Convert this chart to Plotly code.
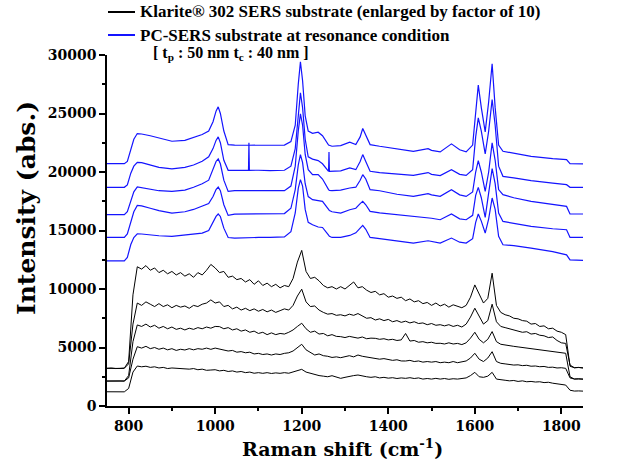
import plotly.graph_objects as go

# ---------------- data ----------------
# PC-SERS (blue) spectra, shared Raman-shift grid
x_pc = [750, 790, 797, 805, 812, 820, 830, 850, 870, 900, 930, 950, 970, 985, 995, 1002, 1007, 1012,
        1020, 1030, 1045, 1077, 1078, 1079, 1100, 1127, 1160, 1175, 1185, 1192, 1197, 1202, 1208,
        1215, 1225, 1238, 1248, 1262, 1263, 1264, 1270, 1290, 1311, 1325, 1335, 1341, 1348, 1358,
        1380, 1420, 1458, 1492, 1500, 1520, 1546, 1565, 1580, 1595, 1602, 1608, 1615, 1624, 1632,
        1640, 1647, 1655, 1665, 1690, 1730, 1780, 1812, 1820, 1850]

pc_1 = [20716, 20716, 20900, 21900, 22800, 23286, 23250, 23100, 22900, 22627, 22700, 22950, 23200,
        23500, 24300, 25200, 25572, 25000, 23500, 22343, 22300, 22286, 22286, 22286, 22300, 22286,
        22300, 22600, 24000, 27500, 29426, 27800, 24800, 23500, 23300, 23400, 23100, 22300, 22280,
        22280, 22200, 22250, 22543, 22350, 23000, 23714, 23100, 22343, 22200, 22000, 21770, 22000,
        21850, 21718, 22403, 21900, 21718, 22300, 25000, 27422, 25500, 23431, 26000, 29255, 25500,
        22300, 21770, 21600, 21341, 21150, 21059, 20716, 20700]
pc_2 = [18690, 18690, 18900, 19900, 20500, 20831, 20800, 20600, 20400, 20260, 20400, 20600, 20917,
        21300, 22000, 22700, 23002, 22500, 21000, 20146, 20150, 20146, 22489, 20146, 20150, 20117,
        20150, 20500, 22000, 25000, 26771, 25500, 22800, 21300, 21100, 20973, 20700, 20060, 21718,
        20057, 20057, 20100, 20348, 20200, 20900, 21487, 20900, 20060, 19950, 19850, 19714, 19950,
        19800, 19700, 20203, 19800, 19714, 20200, 23000, 24630, 23500, 21547, 23500, 26197, 24000,
        20500, 19629, 19500, 19260, 19050, 18918, 18690, 18690]
pc_3 = [16349, 16349, 16600, 17600, 18300, 18716, 18650, 18500, 18400, 18345, 18450, 18700, 19000,
        19300, 20200, 20900, 21116, 20700, 19300, 18345, 18400, 18400, 18400, 18400, 18380, 18345,
        18400, 18800, 20500, 23500, 24972, 24000, 21500, 20200, 19774, 19774, 19400, 18500, 18450,
        18420, 18404, 18450, 18635, 18700, 19300, 19774, 19400, 18490, 18400, 18100, 17916, 18150,
        18050, 17916, 18490, 18050, 17916, 18300, 20000, 20973, 20000, 18345, 20000, 22489, 21000,
        18500, 18060, 17800, 17488, 17200, 17060, 16409, 16409]
pc_4 = [14405, 14405, 14700, 15800, 16600, 17145, 17100, 16900, 16700, 16494, 16600, 16800, 17060,
        17300, 17900, 18500, 18716, 18400, 17200, 16289, 16400, 16403, 16403, 16403, 16420, 16403,
        16450, 16900, 18500, 20600, 21487, 20800, 19000, 17900, 17633, 17550, 17488, 16800, 16750,
        16700, 16600, 16494, 16777, 16900, 17300, 17488, 17200, 16631, 16500, 16350, 16203, 16118,
        16050, 15920, 16409, 16000, 15920, 16300, 18000, 18687, 17800, 16117, 18000, 20288, 19000,
        16500, 15775, 15600, 15347, 15150, 15064, 14405, 14405]
pc_5 = [12409, 12409, 12700, 13800, 14400, 14722, 14700, 14600, 14550, 14490, 14600, 14700, 14775,
        15000, 15700, 16200, 16409, 16200, 15200, 14400, 14353, 14405, 14405, 14405, 14405, 14405,
        14450, 14900, 16500, 18600, 19346, 18800, 16800, 15700, 15492, 15300, 15261, 14600, 14550,
        14500, 14405, 14405, 14576, 14800, 15200, 15432, 15100, 14405, 14300, 14100, 13925, 14122,
        14050, 13925, 14353, 14000, 13925, 14300, 15700, 16409, 15800, 14781, 16000, 17779, 16800,
        14500, 13780, 13700, 13497, 13200, 12923, 12495, 12440]

# Klarite (black) spectra, enlarged by factor of 10
x_kl = [750, 760, 770, 780, 790,
        800, 810, 820, 830, 840, 850, 860, 870, 880, 890,
        900, 910, 920, 930, 940, 950, 960, 970, 980, 990,
        1000, 1010, 1020, 1030, 1040, 1050, 1060, 1070, 1080, 1090,
        1100, 1110, 1120, 1130, 1140, 1150, 1160, 1170, 1180, 1190,
        1200, 1210, 1220, 1230, 1240, 1250, 1260, 1270, 1280, 1290,
        1300, 1310, 1320, 1330, 1340, 1350, 1360, 1370, 1380, 1390,
        1400, 1410, 1420, 1430, 1440, 1450, 1460, 1470, 1480, 1490,
        1500, 1510, 1520, 1530, 1540, 1550, 1560, 1570, 1580, 1590,
        1600, 1610, 1620, 1630, 1640, 1650, 1660, 1670, 1680, 1690,
        1700, 1710, 1720, 1730, 1740, 1750, 1760, 1770, 1780, 1790,
        1800, 1810, 1820, 1830, 1840, 1850]

kl_1 = [3220, 3250, 3200, 3240, 3230,
        3800, 9500, 11900, 11700, 12000, 11600, 11800, 11400, 11600, 11300,
        11500, 11200, 11400, 11100, 11300, 11000, 11400, 11200, 11600, 12100,
        11800, 11400, 11500, 11000, 11100, 10800, 10900, 10600, 10800, 10400,
        10700, 10300, 10500, 10200, 10400, 10100, 10300, 10200, 10900, 12300,
        13300, 11500, 10900, 11000, 10700, 10300, 10100, 10200, 10000, 10200,
        10000, 10300, 10600, 10100, 10200, 9900, 9700, 9800, 9500, 9600,
        9300, 9400, 9200, 9300, 9000, 9150, 8900, 9000, 8750, 8850,
        8600, 8800, 8550, 8700, 8450, 8650, 8500, 8400, 8600, 9300,
        10350, 9500, 8800, 9200, 11350, 8600, 8000, 7800, 7700, 7500,
        7450, 7300, 7250, 7000, 7050, 6800, 6850, 6600, 6650, 6400,
        6300, 6100, 3400, 3270, 3300, 3250]
kl_2 = [3220, 3200, 3240, 3210, 3230,
        3600, 7000, 8800, 8600, 8900, 8700, 8500, 8750, 8500, 8650,
        8400, 8600, 8450, 8550, 8350, 8600, 8500, 8700, 8800, 9069,
        8800, 8900, 8500, 8600, 8300, 8450, 8200, 8350, 8150, 8300,
        8100, 8250, 8050, 8200, 8000, 8150, 8300, 8200, 8600, 9400,
        9985, 8900, 8500, 8550, 8200, 8000, 7850, 7900, 7750, 7800,
        7700, 7850, 7750, 7900, 7700, 7500, 7550, 7350, 7450, 7300,
        7400, 7200, 7300, 7150, 7250, 7100, 7200, 7050, 7100, 6950,
        7050, 6900, 6950, 6850, 6950, 6800, 6900, 6750, 7000, 7600,
        8358, 7700, 7000, 7300, 8701, 7200, 6800, 6700, 6600, 6500,
        6450, 6300, 6350, 6150, 6200, 6050, 6000, 5850, 5900, 5600,
        5400, 5350, 3500, 3271, 3290, 3260]
kl_3 = [2132, 2150, 2120, 2140, 2130,
        2600, 5500, 6928, 6800, 7000, 6750, 6900, 6650, 6800, 6600,
        6750, 6550, 6650, 6500, 6650, 6550, 6700, 6600, 6750, 6650,
        6800, 6783, 6600, 6700, 6500, 6600, 6400, 6500, 6300, 6400,
        6200, 6300, 6100, 6250, 6100, 6200, 6150, 6300, 6500, 6800,
        7074, 6600, 6300, 6400, 6150, 6200, 6000, 6100, 5950, 5927,
        5850, 5950, 5850, 5800, 5900, 5750, 5800, 5784, 5700, 5750,
        5650, 5700, 5600, 5650, 6200, 5550, 5600, 5450, 5500, 5400,
        5450, 5350, 5361, 5300, 5400, 5300, 5350, 5250, 5400, 5800,
        6303, 5700, 5400, 5700, 6360, 5500, 5275, 5200, 5150, 5100,
        5050, 5000, 4950, 4900, 4850, 4787, 4750, 4700, 4650, 4600,
        4550, 4505, 2500, 2304, 2320, 2290]
kl_4 = [2132, 2120, 2145, 2125, 2135,
        2400, 4000, 5070, 4950, 5100, 4900, 5000, 4850, 4950, 4800,
        4900, 4750, 4850, 4787, 4900, 4800, 4900, 4850, 4950, 4844,
        4950, 4850, 4800, 4700, 4750, 4600, 4650, 4550, 4600, 4450,
        4500, 4400, 4450, 4359, 4450, 4400, 4500, 4550, 4700, 5000,
        5275, 4800, 4600, 4359, 4450, 4300, 4250, 4150, 4200, 4128,
        4214, 4300, 4200, 4359, 4250, 4200, 4100, 4050, 4000, 4050,
        3950, 3900, 3950, 3850, 3845, 3900, 3800, 3850, 3750, 3800,
        3750, 3800, 3700, 3750, 3700, 3800, 3700, 3750, 3850, 4100,
        4505, 4000, 3800, 4100, 4642, 3800, 3648, 3600, 3550, 3500,
        3520, 3450, 3480, 3400, 3420, 3357, 3380, 3300, 3320, 3250,
        3270, 3220, 2400, 2304, 2320, 2300]
kl_5 = [1216, 1230, 1200, 1225, 1210,
        1500, 2900, 3417, 3350, 3400, 3300, 3350, 3250, 3300, 3200,
        3250, 3220, 3200, 3220, 3150, 3200, 3100, 3150, 3050, 3074,
        3100, 3000, 3050, 2950, 3000, 2900, 2950, 2850, 2900, 2800,
        2850, 2792, 2850, 2780, 2830, 2792, 2850, 2800, 2900, 3000,
        3134, 2900, 2792, 2700, 2600, 2550, 2500, 2589, 2450, 2363,
        2450, 2550, 2600, 2650, 2550, 2500, 2450, 2500, 2400, 2450,
        2380, 2420, 2350, 2400, 2363, 2420, 2350, 2400, 2300, 2350,
        2300, 2363, 2300, 2350, 2280, 2330, 2300, 2350, 2400, 2600,
        2877, 2500, 2450, 2550, 2877, 2300, 2218, 2200, 2150, 2180,
        2100, 2150, 2073, 2100, 2050, 2073, 2000, 2030, 1950, 1900,
        1820, 1790, 1350, 1276, 1290, 1270]

legend_klarite = "Klarite® 302 SERS substrate (enlarged by factor of 10)"
legend_pc = "PC-SERS substrate at resonance condition"
legend_pc_note = "[ t<sub>p</sub> : 50 nm t<sub>c</sub> : 40 nm ]"

x_ticks = [800, 1000, 1200, 1400, 1600, 1800]
y_ticks = [0, 5000, 10000, 15000, 20000, 25000, 30000]

# ---------------- figure ----------------
fig = go.Figure()
BLACK = "#000000"
BLUE = "#1414ff"

for i, ys in enumerate([kl_1, kl_2, kl_3, kl_4, kl_5]):
    fig.add_trace(go.Scatter(x=x_kl, y=ys, mode="lines", line=dict(color=BLACK, width=1),
                             name=legend_klarite, showlegend=False))
for i, ys in enumerate([pc_1, pc_2, pc_3, pc_4, pc_5]):
    fig.add_trace(go.Scatter(x=x_pc, y=ys, mode="lines", line=dict(color=BLUE, width=1.2),
                             name=legend_pc, showlegend=False))

# hand-placed legend (paper coordinates: plot area spans 107..583 px, 55..406 px)
PL, PW, PB, PH = 107, 476, 406, 351
def px(xp):
    return (xp - PL) / PW
def py(yp):
    return (PB - yp) / PH

leg_font = dict(family="Liberation Serif", size=17, color="black", weight="bold")
for yp, col, txt in [(12, BLACK, legend_klarite), (35, BLUE, legend_pc)]:
    fig.add_shape(type="line", xref="paper", yref="paper",
                  x0=px(108), x1=px(135), y0=py(yp), y1=py(yp),
                  line=dict(color=col, width=2))
    fig.add_annotation(xref="paper", yref="paper", x=px(138), y=py(yp),
                       xanchor="left", yanchor="middle", showarrow=False,
                       text=txt, font=leg_font)
fig.add_annotation(xref="paper", yref="paper", x=px(151), y=py(54),
                   xanchor="left", yanchor="middle", showarrow=False,
                   text=legend_pc_note,
                   font=dict(family="Liberation Serif", size=16, color="black", weight="bold"))

# axis titles
fig.add_annotation(xref="paper", yref="paper", x=px(26), y=py(208),
                   xanchor="center", yanchor="middle", showarrow=False, textangle=-90,
                   text="Intensity (abs.)",
                   font=dict(family="DejaVu Serif", size=25, color="black", weight="bold"))
fig.add_annotation(xref="paper", yref="paper", x=px(342), y=py(448),
                   xanchor="center", yanchor="middle", showarrow=False,
                   text="Raman shift (cm<sup>-1</sup>)",
                   font=dict(family="DejaVu Serif", size=19, color="black", weight="bold"))

tick_font = dict(family="DejaVu Serif", size=14, color="black", weight="bold")

fig.update_layout(
    width=624, height=461,
    margin=dict(l=107, r=41, t=55, b=55, autoexpand=False),
    paper_bgcolor="white", plot_bgcolor="white",
    showlegend=False,
    xaxis=dict(range=[750, 1850], showgrid=False, zeroline=False, automargin=False,
               showline=True, linecolor="black", linewidth=1.5, mirror=False,
               ticks="outside", ticklen=6, tickwidth=1.5, tickcolor="black",
               tickvals=x_ticks, tickfont=tick_font, ticklabelstandoff=0,
               minor=dict(ticks="outside", ticklen=3.5, tickwidth=1.5, tickcolor="black",
                          dtick=100, tick0=800, showgrid=False)),
    yaxis=dict(range=[0, 30000], showgrid=False, zeroline=False, automargin=False,
               showline=True, linecolor="black", linewidth=1.5, mirror=False,
               ticks="outside", ticklen=6, tickwidth=1.5, tickcolor="black",
               tickvals=y_ticks, tickformat="d", tickfont=tick_font,
               minor=dict(ticks="outside", ticklen=3.5, tickwidth=1.5, tickcolor="black",
                          dtick=2500, tick0=0, showgrid=False)),
)

fig.write_html("out.html")
